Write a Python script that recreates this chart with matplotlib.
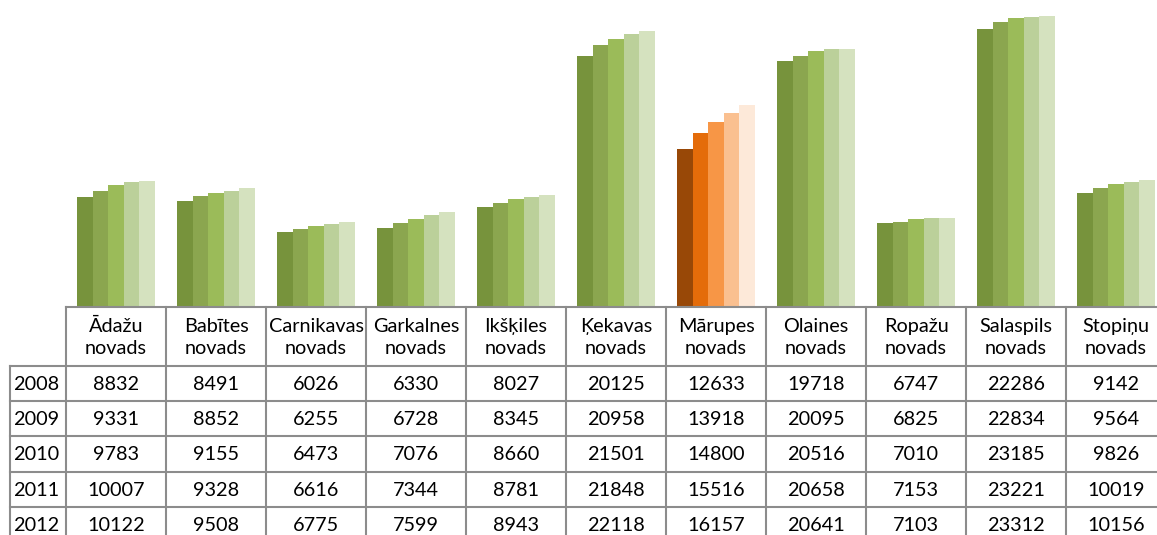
import matplotlib
matplotlib.use("Agg")
import matplotlib.pyplot as plt
from matplotlib.lines import Line2D

categories = ["Ādažu\nnovads", "Babītes\nnovads", "Carnikavas\nnovads", "Garkalnes\nnovads",
              "Ikšķiles\nnovads", "Ķekavas\nnovads", "Mārupes\nnovads", "Olaines\nnovads",
              "Ropažu\nnovads", "Salaspils\nnovads", "Stopiņu\nnovads"]
years = ["2008", "2009", "2010", "2011", "2012"]
v2008 = [8832, 8491, 6026, 6330, 8027, 20125, 12633, 19718, 6747, 22286, 9142]
v2009 = [9331, 8852, 6255, 6728, 8345, 20958, 13918, 20095, 6825, 22834, 9564]
v2010 = [9783, 9155, 6473, 7076, 8660, 21501, 14800, 20516, 7010, 23185, 9826]
v2011 = [10007, 9328, 6616, 7344, 8781, 21848, 15516, 20658, 7153, 23221, 10019]
v2012 = [10122, 9508, 6775, 7599, 8943, 22118, 16157, 20641, 7103, 23312, 10156]
series = [v2008, v2009, v2010, v2011, v2012]
highlight = 6  # Mārupes

green = ["#77933C", "#8BA64F", "#9BBB59", "#BBD09A", "#D5E2BF"]
orange = ["#984807", "#E46C0A", "#F79646", "#FAC090", "#FDE9D9"]

W, H = 1157, 535
fig = plt.figure(figsize=(W / 100, H / 100), dpi=100)
plt.rcParams['font.family'] = ['Lato', 'DejaVu Sans']

x0 = 66      # left of category columns
colw = 100   # column width in px
base = 307   # baseline y px
ncols_vis = (W - x0) / colw

ax = fig.add_axes([x0 / W, 1 - base / H, (W - x0) / W, base / H])
ax.set_xlim(0, ncols_vis)
ax.set_ylim(0, 24590)
ax.axis("off")

bw = 0.155
for k, vals in enumerate(series):
    for i, v in enumerate(vals):
        c = orange[k] if i == highlight else green[k]
        ax.bar(i + 0.5 + (k - 2) * bw, v, width=bw, color=c, linewidth=0)

# table in pixel coordinates
tab = fig.add_axes([0, 0, 1, 1])
tab.set_xlim(0, W)
tab.set_ylim(H, 0)
tab.axis("off")
lc = "#8C8C8C"
lw = 1.5
hdr_top, hdr_bot = 307, 366
rowh = 35.2
row_tops = [hdr_bot + r * rowh for r in range(len(years) + 1)]
left = 10

# horizontal lines
tab.add_line(Line2D([x0, W], [hdr_top, hdr_top], color=lc, lw=lw))
for yy in row_tops:
    tab.add_line(Line2D([left, W], [yy, yy], color=lc, lw=lw))
# vertical lines
tab.add_line(Line2D([left, left], [hdr_bot, H], color=lc, lw=lw))
for j in range(len(categories) + 1):
    xx = x0 + j * colw
    if xx <= W:
        tab.add_line(Line2D([xx, xx], [hdr_top, H], color=lc, lw=lw))

fs = 14.3
for j, name in enumerate(categories):
    cx = x0 + (j + 0.5) * colw
    tab.text(cx, (hdr_top + hdr_bot) / 2 + 1, name, ha="center", va="center",
             fontsize=fs, linespacing=1.4, color="black")
for r, (yr, vals) in enumerate(zip(years, series)):
    cy = row_tops[r] + rowh / 2 + 1
    tab.text(left + 3, cy, yr, ha="left", va="center", fontsize=fs, color="black")
    for j, v in enumerate(vals):
        cx = x0 + (j + 0.5) * colw
        tab.text(cx, cy, str(v), ha="center", va="center", fontsize=fs, color="black")

fig.savefig("out.png", dpi=100)
